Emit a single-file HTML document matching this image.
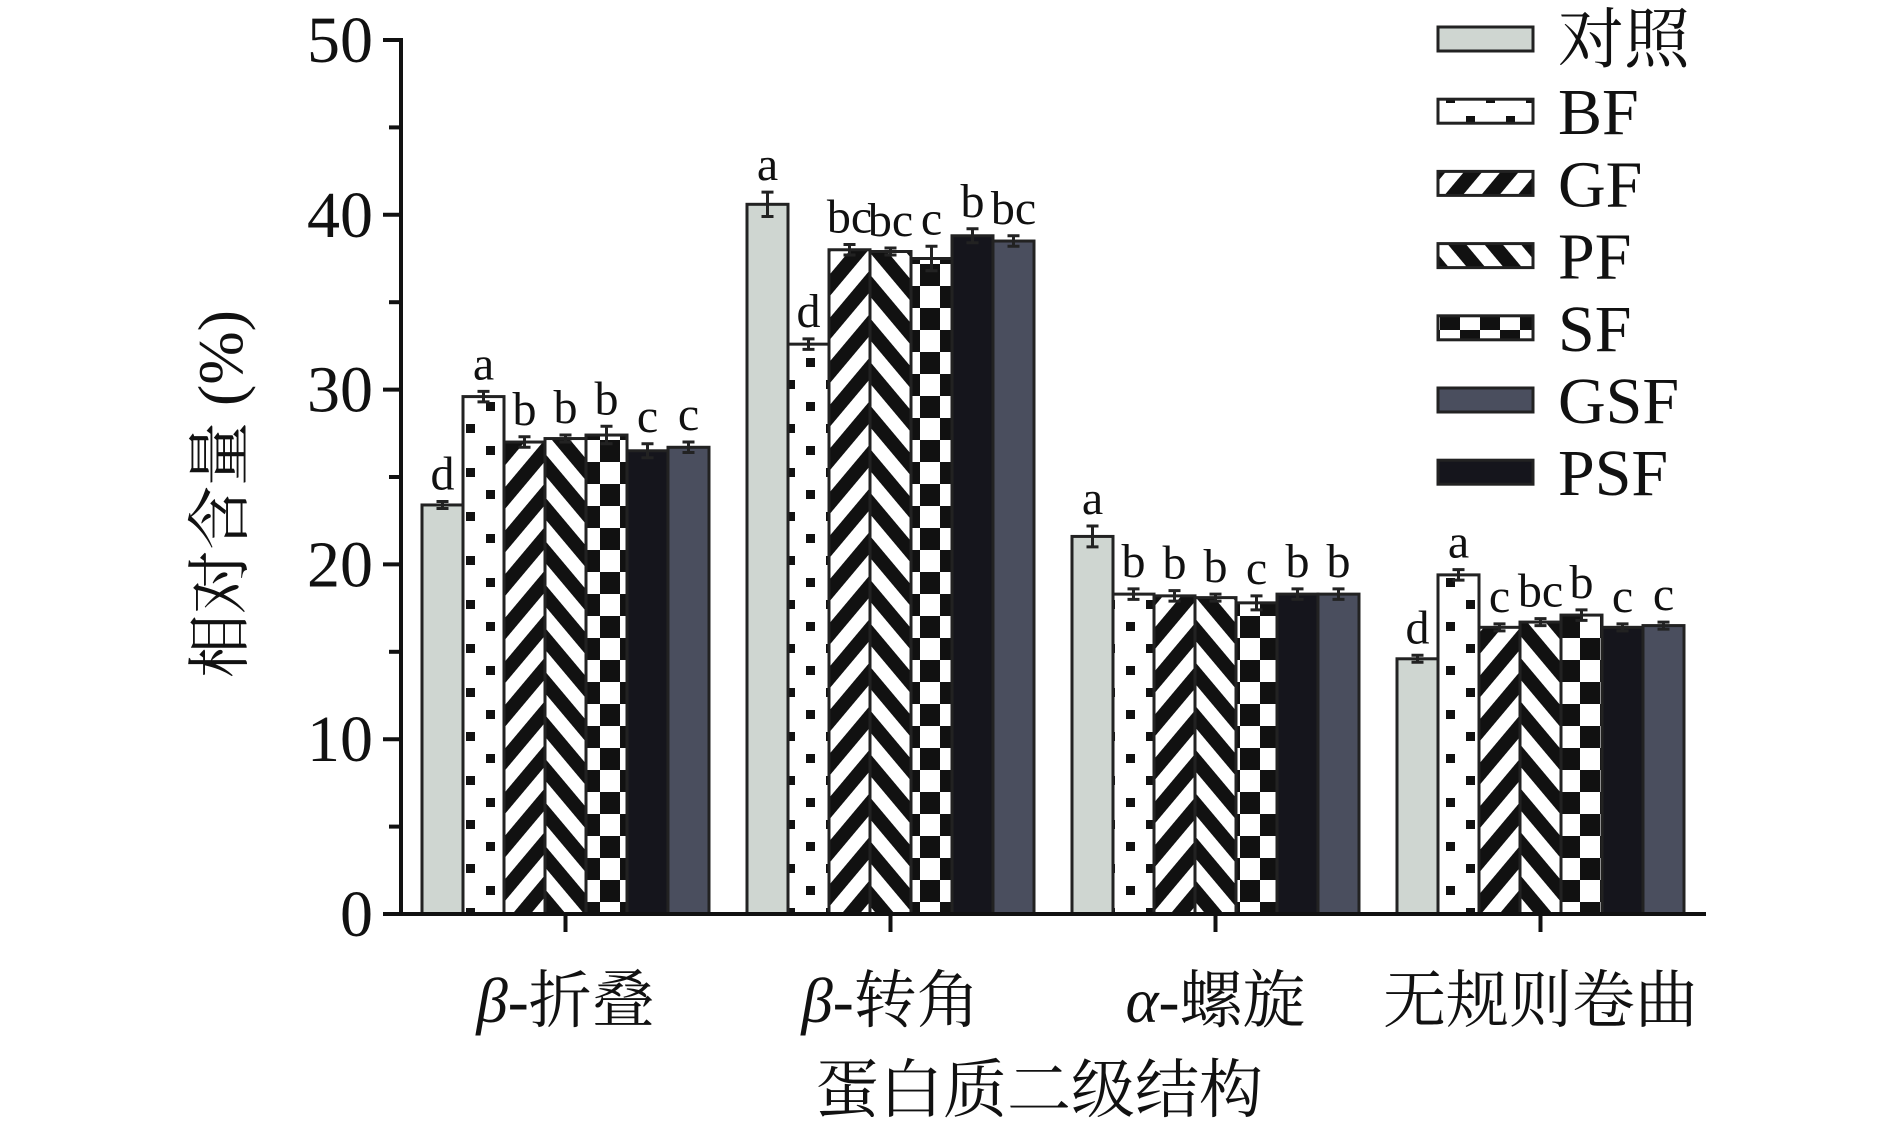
<!DOCTYPE html>
<html><head><meta charset="utf-8">
<style>
html,body{margin:0;padding:0;background:#fff;}
svg{display:block;}
text{font-family:"Liberation Serif","Noto Serif CJK SC","Noto Sans CJK SC",serif;fill:#111;}
</style></head>
<body>
<svg id="chart" width="1890" height="1130" viewBox="0 0 1890 1130">
<defs>
<pattern id="pBF" patternUnits="userSpaceOnUse" width="40" height="44">
<rect width="40" height="44" fill="#fff"/>
<rect x="6" y="6" width="9" height="9" fill="#111"/>
<rect x="26" y="28" width="9" height="9" fill="#111"/>
</pattern>
<pattern id="pGF" patternUnits="userSpaceOnUse" width="28" height="28" patternTransform="rotate(40)">
<rect width="28" height="28" fill="#fff"/><rect width="14" height="28" fill="#111"/>
</pattern>
<pattern id="pPF" patternUnits="userSpaceOnUse" width="28" height="28" patternTransform="rotate(-40)">
<rect width="28" height="28" fill="#fff"/><rect width="14" height="28" fill="#111"/>
</pattern>
<pattern id="pSF" patternUnits="userSpaceOnUse" width="40" height="44">
<rect width="40" height="44" fill="#fff"/>
<rect x="0" y="0" width="20" height="22" fill="#111"/>
<rect x="20" y="22" width="20" height="22" fill="#111"/>
</pattern>
</defs>
<g id="plot"></g>
</svg>
<script>
const categories = ["β-折叠","β-转角","α-螺旋","无规则卷曲"];
const seriesNames = ["对照","BF","GF","PF","SF","GSF","PSF"];
const vControl = [23.4, 40.6, 21.6, 14.6];
const vBF      = [29.6, 32.6, 18.3, 19.4];
const vGF      = [27.0, 38.0, 18.2, 16.4];
const vPF      = [27.2, 37.9, 18.1, 16.7];
const vSF      = [27.4, 37.5, 17.8, 17.1];
const vPSFbar  = [26.5, 38.8, 18.3, 16.4];
const vGSFbar  = [26.7, 38.5, 18.3, 16.5];
const errs = [[0.2,0.7,0.6,0.2],[0.3,0.3,0.3,0.3],[0.3,0.3,0.3,0.2],[0.2,0.2,0.2,0.2],[0.5,0.7,0.4,0.3],[0.4,0.4,0.3,0.2],[0.3,0.3,0.3,0.2]];
const sigLetters = [["d","a","b","b","b","c","c"],["a","d","bc","bc","c","b","bc"],["a","b","b","b","c","b","b"],["d","a","c","bc","b","c","c"]];
const yTicks = [0,10,20,30,40,50];

const barSeries = [vControl,vBF,vGF,vPF,vSF,vPSFbar,vGSFbar];
const barFills = ["#cfd6d1","url(#pBF)","url(#pGF)","url(#pPF)","url(#pSF)","#15151c","#4a4e5e"];
const legFills = ["#cfd6d1","url(#pBF)","url(#pGF)","url(#pPF)","url(#pSF)","#4a4e5e","#15151c"];
const barNames = ["control","bf","gf","pf","sf","psf","gsf"];

const NS="http://www.w3.org/2000/svg";
const g=document.getElementById('plot');
const X0=401,X1=1706,Y0=914,Y50=40;
const y=v=>Y0-(v/50)*(Y0-Y50);
const groupW=325, groupStart=422, barW=41;
function el(t,a,txt){const e=document.createElementNS(NS,t);for(const k in a)e.setAttribute(k,a[k]);if(txt!==undefined)e.textContent=txt;g.appendChild(e);return e;}

categories.forEach((c,ci)=>{
  barSeries.forEach((s,si)=>{
    const x=groupStart+ci*groupW+si*barW;
    const r=el('rect',{x:x,y:y(s[ci]),width:barW,height:Y0-y(s[ci]),fill:barFills[si],stroke:'#222','stroke-width':3});
    
    
    const cx=x+barW/2,e=errs[si][ci];
    const eb=el('path',{d:`M${cx} ${y(s[ci]+e)}V${y(s[ci]-e)}M${cx-6} ${y(s[ci]+e)}H${cx+6}M${cx-6} ${y(s[ci]-e)}H${cx+6}`,stroke:'#222','stroke-width':3,fill:'none'});
    
    
    const t=el('text',{x:cx,y:y(s[ci]+e)-12,'text-anchor':'middle','font-size':48},sigLetters[ci][si]);
    
    
  });
});
const ax=el('path',{d:`M${X0} ${Y50-2}V${Y0}H${X1}`,stroke:'#111','stroke-width':4,fill:'none'});


for(let v=0;v<=50;v+=5){
  const tk=el('line',{x1:X0-(v%10===0?18:12),x2:X0,y1:y(v),y2:y(v),stroke:'#111','stroke-width':4});
  
  
}
yTicks.forEach(v=>{
  const t=el('text',{x:X0-28,y:y(v)+22,'text-anchor':'end','font-size':66},String(v));
  
  
});
categories.forEach((c,ci)=>{
  const cx=groupStart+ci*groupW+3.5*barW;
  const tk=el('line',{x1:cx,x2:cx,y1:Y0,y2:Y0+18,stroke:'#111','stroke-width':4});
  
  
  const t=el('text',{x:cx,y:1022,'text-anchor':'middle','font-size':63});
  
  
  if(c[1]==='-'){
    const a=document.createElementNS(NS,'tspan');a.setAttribute('font-style','italic');a.textContent=c[0];t.appendChild(a);
    const b=document.createElementNS(NS,'tspan');b.textContent=c.slice(1);t.appendChild(b);
  } else t.textContent=c;
});
const xt=el('text',{x:1039,y:1112,'text-anchor':'middle','font-size':64},'蛋白质二级结构');


const yt=el('text',{x:0,y:0,'text-anchor':'middle','font-size':64,transform:'translate(242,494) rotate(-90)'},'相对含量 (%)');


seriesNames.forEach((n,i)=>{
  const cy=39+i*72.2;
  const r=el('rect',{x:1438,y:cy-12,width:95,height:24,fill:legFills[i],stroke:'#222','stroke-width':3});
  
  
  const t=el('text',{x:1558,y:cy+23,'font-size':66},n);
  
  
});
</script>
</body></html>
